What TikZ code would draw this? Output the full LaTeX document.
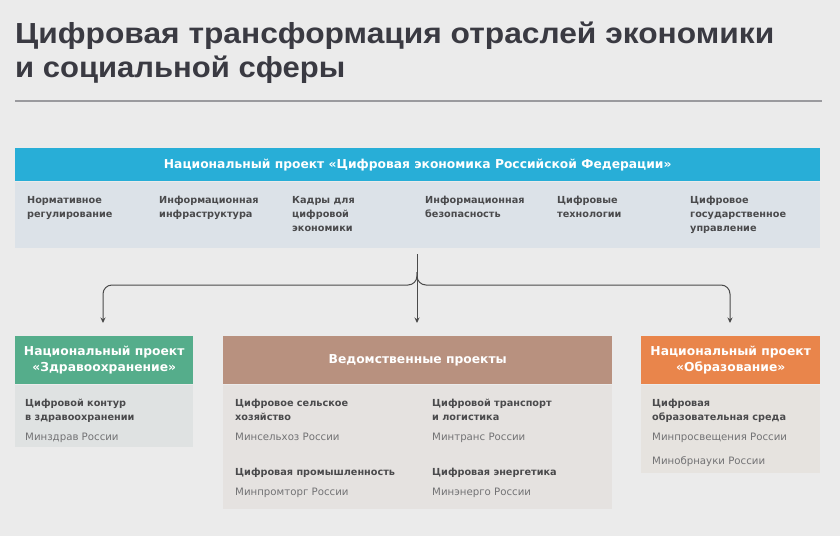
\documentclass[tikz,border=0pt]{standalone}
\usepackage{fontspec}
\usetikzlibrary{arrows.meta}
\setmainfont{DejaVu Sans}
\newfontfamily\titlefont{Liberation Sans}
\definecolor{bgc}{HTML}{EBEBEB}
\definecolor{titlec}{HTML}{3A3A42}
\definecolor{rulec}{HTML}{9A9A9E}
\definecolor{bluec}{HTML}{28AED7}
\definecolor{bluebody}{HTML}{DCE2E8}
\definecolor{greenc}{HTML}{55AD8B}
\definecolor{greenbody}{HTML}{DFE2E2}
\definecolor{brownc}{HTML}{B8917F}
\definecolor{brownbody}{HTML}{E5E2E0}
\definecolor{orangec}{HTML}{E9854B}
\definecolor{orangebody}{HTML}{E6E3DF}
\definecolor{itemc}{HTML}{4A4A4C}
\definecolor{minc}{HTML}{727274}
\definecolor{linec}{HTML}{4A4A4A}
\tikzset{
  hdr/.style={anchor=north west, inner sep=0, text=white, align=center,
    font=\fontsize{12.3}{16}\selectfont\bfseries},
  panel/.style={anchor=north west, inner sep=0},
  item/.style={anchor=north west, inner sep=0, align=left, text=itemc,
    font=\fontsize{9.7}{14}\selectfont\bfseries},
  mintxt/.style={anchor=north west, inner sep=0, align=left, text=minc,
    font=\fontsize{10.2}{14}\selectfont},
  conn/.style={draw=linec, line width=1pt, rounded corners=9pt,
    -{Stealth[length=5.5pt,width=5pt]}},
}
\begin{document}
\begin{tikzpicture}[x=1pt,y=-1pt]
\fill[bgc] (0,0) rectangle (840,536);
\useasboundingbox (0,0) rectangle (840,536);
% title
\node[anchor=base west, inner sep=0, text=titlec] (t1) at (15,43)
  {\resizebox{759pt}{\height}{\titlefont\fontsize{29}{30}\selectfont\bfseries Цифровая трансформация отраслей экономики}};
\node[anchor=base west, inner sep=0, text=titlec] (t2) at (15,77)
  {\resizebox{330pt}{\height}{\titlefont\fontsize{29}{30}\selectfont\bfseries и социальной сферы}};
\draw[rulec, line width=2pt] (15,101) -- (822,101);
% top panel
\node[hdr, fill=bluec, minimum width=805pt, minimum height=33pt] (nh) at (15,148)
  {Национальный проект «Цифровая экономика Российской Федерации»};
\node[panel, fill=bluebody, minimum width=805pt, minimum height=66pt] (nb) at (nh.south west) {};
\node[item] (i1) at (27,196) {Нормативное\\регулирование};
\node[item] (i2) at (159,196) {Информационная\\инфраструктура};
\node[item] (i3) at (292,196) {Кадры для\\цифровой\\экономики};
\node[item] (i4) at (425,196) {Информационная\\безопасность};
\node[item] (i5) at (557,196) {Цифровые\\технологии};
\node[item] (i6) at (690,196) {Цифровое\\государственное\\управление};
% boxes
\node[hdr, fill=greenc, minimum width=178pt, minimum height=48pt] (gh) at (15,336)
  {Национальный проект\\«Здравоохранение»};
\node[panel, fill=greenbody, minimum width=178pt, minimum height=62pt] (gb) at (gh.south west) {};
\node[item] (g1) at (25,399) {Цифровой контур\\в здравоохранении};
\node[mintxt] (g2) at (25,433) {Минздрав России};

\node[hdr, fill=brownc, minimum width=389pt, minimum height=48pt] (bh) at (223,336)
  {Ведомственные проекты};
\node[panel, fill=brownbody, minimum width=389pt, minimum height=124pt] (bb) at (bh.south west) {};
\node[item] (b1) at (235,399) {Цифровое сельское\\хозяйство};
\node[mintxt] (b2) at (235,433) {Минсельхоз России};
\node[item] (b3) at (235,468) {Цифровая промышленность};
\node[mintxt] (b4) at (235,488) {Минпромторг России};
\node[item] (b5) at (432,399) {Цифровой транспорт\\и логистика};
\node[mintxt] (b6) at (432,433) {Минтранс России};
\node[item] (b7) at (432,468) {Цифровая энергетика};
\node[mintxt] (b8) at (432,488) {Минэнерго России};

\node[hdr, fill=orangec, minimum width=179pt, minimum height=48pt] (oh) at (641,336)
  {Национальный проект\\«Образование»};
\node[panel, fill=orangebody, minimum width=179pt, minimum height=88pt] (ob) at (oh.south west) {};
\node[item] (o1) at (652,399) {Цифровая\\образовательная среда};
\node[mintxt] (o2) at (652,433) {Минпросвещения России};
\node[mintxt] (o3) at (652,456) {Минобрнауки России};
% connectors
\coordinate (c0) at (417,254);
\coordinate (cj) at (417,272);
\draw[conn] (c0) -- ([yshift=13pt]bh.north -| c0);
\draw[conn] (cj) -- (417,285) -- (103,285) -- ([yshift=13pt]gh.north -| 103,0);
\draw[conn] (cj) -- (417,285) -- (730,285) -- ([yshift=13pt]oh.north -| 730,0);
\end{tikzpicture}
\end{document}
